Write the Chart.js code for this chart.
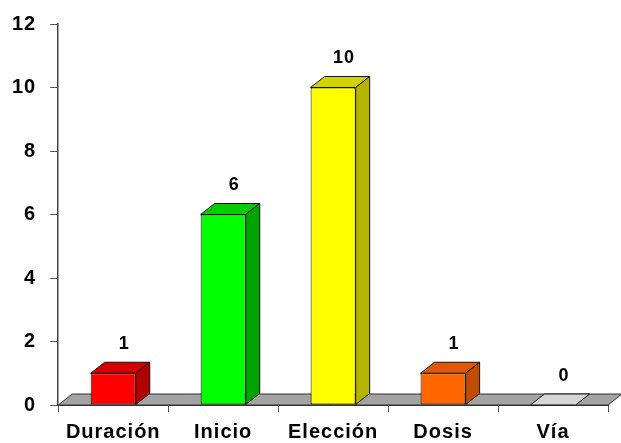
<!DOCTYPE html>
<html>
<head>
<meta charset="utf-8">
<script src="https://cdn.jsdelivr.net/npm/chart.js@4/dist/chart.umd.min.js"></script>
<style>
  html, body { margin: 0; padding: 0; background: #fff; }
  #wrap { width: 621px; height: 443px; }
</style>
</head>
<body>
<div id="wrap"><canvas id="c" width="621" height="443"></canvas></div>
<script>
// Categories and counts
const categories = ['Duración', 'Inicio', 'Elección', 'Dosis', 'Vía'];
const counts = [1, 6, 10, 1, 0];
const yTicks = [0, 2, 4, 6, 8, 10, 12];

// Face colours of each 3D bar
const frontColors = ['#ff0000', '#00ff00', '#ffff00', '#ff6600', '#d6d6d6'];
const topColors   = ['#d40000', '#00cc00', '#d2d200', '#e05800', '#d6d6d6'];
const sideColors  = ['#b00000', '#00a400', '#b4b400', '#c04c00', '#b0b0b0'];
const floorColor = '#a3a3a3';

const FONT = "'Liberation Sans', Arial, sans-serif";
const DX = 14, DY = -11; // depth offset of the extrusion

function poly(ctx, pts, fill) {
  ctx.beginPath();
  ctx.moveTo(pts[0][0], pts[0][1]);
  for (let i = 1; i < pts.length; i++) ctx.lineTo(pts[i][0], pts[i][1]);
  ctx.closePath();
  ctx.fillStyle = fill;
  ctx.fill();
  ctx.stroke();
}

const depthPlugin = {
  id: 'depth',
  beforeLayout(chart) { chart.ctx.letterSpacing = '1px'; },
  beforeDraw(chart) { chart.ctx.letterSpacing = '1px'; },
  beforeDatasetsDraw(chart) {
    const { ctx, chartArea: a, scales: { y } } = chart;
    const y0 = y.getPixelForValue(0);
    ctx.save();
    ctx.lineWidth = 1;
    ctx.strokeStyle = '#333';
    poly(ctx, [[a.left, y0], [a.right, y0], [a.right + DX, y0 + DY], [a.left + DX, y0 + DY]], floorColor);
    ctx.restore();
  },
  afterDatasetsDraw(chart) {
    const { ctx } = chart;
    const meta = chart.getDatasetMeta(0);
    ctx.save();
    ctx.lineWidth = 1;
    ctx.strokeStyle = '#111';
    meta.data.forEach((bar, i) => {
      const { x, y, base, width } = bar.getProps(['x', 'y', 'base', 'width'], true);
      const l = x - width / 2, r = x + width / 2;
      poly(ctx, [[l, y], [r, y], [r + DX, y + DY], [l + DX, y + DY]], topColors[i]);
      if (base - y > 0.5) {
        poly(ctx, [[r, y], [r + DX, y + DY], [r + DX, base + DY], [r, base]], sideColors[i]);
      }
      ctx.fillStyle = '#000';
      ctx.font = 'bold 18px ' + FONT;
      ctx.textAlign = 'center';
      ctx.textBaseline = 'middle';
      ctx.fillText(String(counts[i]), x + DX / 2 + 4, y + DY - 18);
    });
    ctx.restore();
  }
};

new Chart(document.getElementById('c'), {
  type: 'bar',
  data: {
    labels: categories,
    datasets: [{
      data: counts,
      backgroundColor: frontColors,
      borderColor: '#111',
      borderWidth: 1,
      borderSkipped: false,
      categoryPercentage: 1,
      barPercentage: 0.41
    }]
  },
  options: {
    responsive: false,
    animation: false,
    layout: { padding: { left: -2, right: 13, top: 2, bottom: -9 } },
    plugins: { legend: { display: false }, tooltip: { enabled: false } },
    scales: {
      x: {
        grid: { display: true, drawOnChartArea: false, drawTicks: true, tickLength: 7, color: '#555', offset: true },
        border: { display: true, color: '#333', width: 1 },
        ticks: { color: '#000', font: { family: FONT, size: 20, weight: 'bold', lineHeight: 1 }, padding: 10, maxRotation: 0 }
      },
      y: {
        min: 0, max: 12,
        afterBuildTicks(scale) { scale.ticks = yTicks.map(v => ({ value: v })); },
        grid: { display: true, drawOnChartArea: false, drawTicks: true, tickLength: 8, color: '#555' },
        border: { display: true, color: '#444', width: 1.5 },
        ticks: { color: '#000', font: { family: FONT, size: 20, weight: 'bold', lineHeight: 1 }, padding: 14 }
      }
    }
  },
  plugins: [depthPlugin]
});
</script>
</body>
</html>
